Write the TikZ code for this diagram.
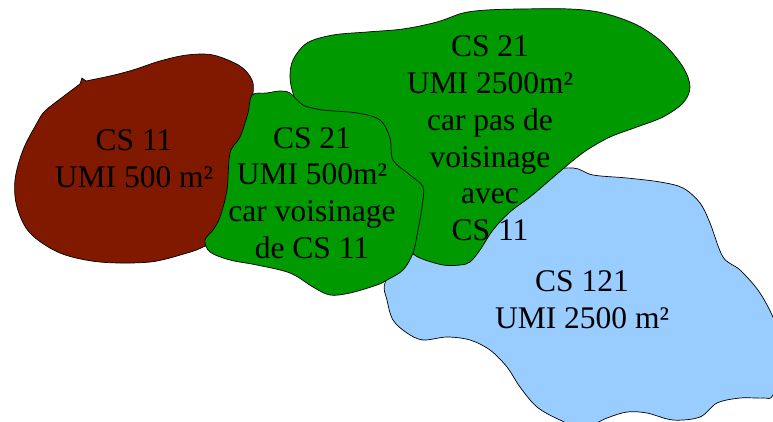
\documentclass[tikz,border=0pt]{standalone}
\usepackage{fontspec}
\setmainfont{Liberation Serif}
\definecolor{brownfill}{RGB}{128,25,0}
\definecolor{greenfill}{RGB}{0,153,0}
\definecolor{bluefill}{RGB}{153,204,255}
\begin{document}
\begin{tikzpicture}[x=1pt,y=-1pt,
  region/.style={draw=black,line width=0.7pt},
  lbl/.style={align=center,inner sep=0pt,font=\fontsize{31.5}{36.8}\selectfont}]
\useasboundingbox (0,0) rectangle (773,421);
\clip (0,0) rectangle (773,421);
% brown CS 11
\path[region,fill=brownfill] plot[smooth,tension=0.55] coordinates {
 (86,81) (110,76) (133,70) (160,61) (187,55) (213,55) (240,66) (252,80) (253,95)
 (250,130) (238,185) (222,235) (203,247) (187,253) (150,262) (100,262) (60,253)
 (30,233) (17,207) (15,180) (23,150) (37,123) (45,111) (64,96) (80,84)}
 -- (82,78) -- cycle;
% blue CS 121
\path[region,fill=bluefill] plot[smooth cycle,tension=0.55] coordinates {
 (545,175) (573,168) (593,175) (627,178) (660,182) (683,188) (700,203) (710,223)
 (723,257) (740,270) (760,293) (776,325) (782,360) (773,395) (763,398) (740,398)
 (717,403) (700,417) (673,420) (647,413) (627,412) (607,418) (583,428) (560,420)
 (537,407) (520,387) (507,367) (490,350) (470,340) (447,337) (423,340) (407,333)
 (393,320) (387,300) (385,283) (403,252) (450,225)};
% big green CS 21
\path[region,fill=greenfill] plot[smooth cycle,tension=0.55] coordinates {
 (293,93) (290,77) (293,60) (307,43) (333,35) (367,32) (403,29) (437,22) (463,13)
 (487,10) (520,9) (570,9) (603,13) (637,25) (663,43) (683,67) (690,87) (683,103)
 (663,117) (637,127) (610,137) (587,150) (570,163) (550,180) (530,197) (510,212)
 (493,230) (480,250) (470,262) (460,265) (443,265) (420,258) (410,250)
 (405,232) (380,170) (330,120) (300,108)};
% small green CS 21
\path[region,fill=greenfill] plot[smooth cycle,tension=0.55] coordinates {
 (252,95) (267,93) (280,91) (290,93) (303,105) (323,110) (357,113) (380,120)
 (390,138) (393,160) (410,175) (423,187) (422,207) (418,230) (413,253) (403,270)
 (387,280) (377,285) (350,293) (330,295) (313,287) (290,273) (257,265) (230,260)
 (210,252) (205,240) (213,230) (220,217) (227,190) (230,153) (240,137) (248,113)};
% labels
\node[lbl] (t11) at (134,158.6) {CS 11\\UMI 500 m²};
\node[lbl] (t21a) at (312,193) {CS 21\\UMI 500m²\\car voisinage\\de CS 11};
\node[lbl] (t21b) at (490,138.4) {CS 21\\UMI 2500m²\\car pas de\\voisinage\\avec\\CS 11};
\node[lbl] (t121) at (582,299.6) {CS 121\\UMI 2500 m²};
\end{tikzpicture}
\end{document}
